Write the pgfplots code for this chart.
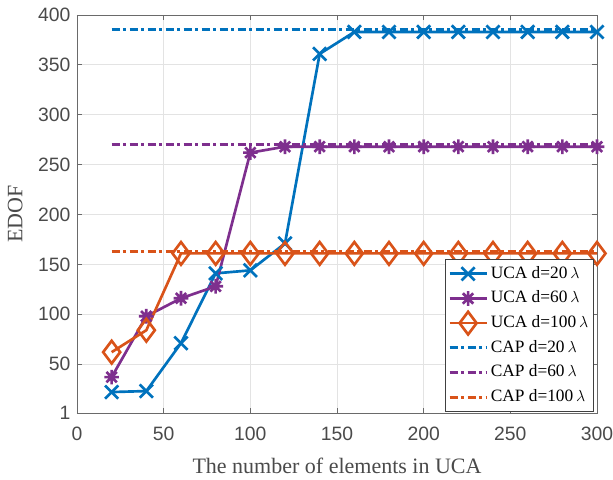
\documentclass[border=0pt]{standalone}
\usepackage{pgfplots}
\pgfplotsset{compat=1.18}
\usepackage{fontspec}
\setmainfont{Liberation Serif}
\newfontfamily\ticksf{Liberation Sans}
\usetikzlibrary{plotmarks}

\definecolor{mblue}{rgb}{0,0.447,0.741}
\definecolor{mpurple}{rgb}{0.494,0.184,0.556}
\definecolor{morange}{rgb}{0.850,0.325,0.098}
\definecolor{axgray}{HTML}{6A6A6A}
\definecolor{tkgray}{HTML}{4A4A4A}

% MATLAB-like asterisk: plus and cross together
\pgfdeclareplotmark{mstar}{%
  \pgfpathmoveto{\pgfqpoint{-\pgfplotmarksize}{0pt}}\pgfpathlineto{\pgfqpoint{\pgfplotmarksize}{0pt}}%
  \pgfpathmoveto{\pgfqpoint{0pt}{-\pgfplotmarksize}}\pgfpathlineto{\pgfqpoint{0pt}{\pgfplotmarksize}}%
  \pgfpathmoveto{\pgfqpoint{-.7071\pgfplotmarksize}{-.7071\pgfplotmarksize}}\pgfpathlineto{\pgfqpoint{.7071\pgfplotmarksize}{.7071\pgfplotmarksize}}%
  \pgfpathmoveto{\pgfqpoint{-.7071\pgfplotmarksize}{.7071\pgfplotmarksize}}\pgfpathlineto{\pgfqpoint{.7071\pgfplotmarksize}{-.7071\pgfplotmarksize}}%
  \pgfusepathqstroke}

\tikzset{capdash/.style={line width=2.2pt, line cap=butt,
  dash pattern=on 6pt off 2.5pt on 2.5pt off 2.5pt}}

\begin{document}
\begin{tikzpicture}
\begin{axis}[
  scale only axis, width=390pt, height=298.5pt,
  xmin=0, xmax=300, ymin=1, ymax=400,
  xtick={0,50,...,300}, ytick={1,50,100,150,200,250,300,350,400},
  tick align=inside, tick pos=both,
  major tick length=3.75pt,
  axis line style={axgray, line width=0.6pt},
  every tick/.style={axgray, line width=0.6pt},
  grid=major, grid style={gray!22, line width=0.6pt},
  /pgf/number format/assume math mode=true,
  /pgf/number format/set thousands separator={},
  tick label style={font=\ticksf\fontsize{14.5}{16}\selectfont, text=tkgray},
  xticklabel style={yshift=-7pt},
  yticklabel style={xshift=-1.5pt},
  xlabel={The number of elements in UCA},
  ylabel={EDOF},
  label style={font=\fontsize{16.5}{19}\selectfont, text=tkgray},
  xlabel style={at={(axis description cs:0.5,-0.153)}, anchor=base},
  ylabel style={at={(axis description cs:-0.119,0.5)}, anchor=center},
  legend image code/.code={%
    \draw[mark repeat=2, mark phase=2, #1] plot coordinates {(0cm,0cm) (0.49cm,0cm) (0.98cm,0cm)};},
  legend cell align=left,
  legend style={at={(rel axis cs:0.994,0.003)}, anchor=south east,
    font=\fontsize{13}{15}\selectfont, draw=black!75, line width=0.5pt,
    inner xsep=2pt, inner ysep=2pt, row sep=1pt,
    nodes={text height=10pt, text depth=3.5pt, inner sep=2pt}},
]
% UCA curves
\addplot[mblue, line width=2pt, mark=x, mark size=7pt, mark options={solid, line width=2pt}] coordinates {
(20,22)(40,23)(60,71)(80,141)(100,144)(120,171)(140,361)(160,383)(180,383)(200,383)(220,383)(240,383)(260,383)(280,383)(300,383)
};
\addlegendentry{UCA d=20\,$\lambda$}
\addplot[mpurple, line width=2pt, mark=mstar, mark size=5.5pt, mark options={solid, line width=2pt}] coordinates {
(20,37)(40,98)(60,116)(80,128)(100,262)(120,268)(140,268)(160,268)(180,268)(200,268)(220,268)(240,268)(260,268)(280,268)(300,268)
};
\addlegendentry{UCA d=60\,$\lambda$}
\addplot[morange, line width=2pt, mark=diamond, mark size=8.5pt, mark options={solid, line width=2pt, fill=white}] coordinates {
(20,62)(40,84)(60,161)(80,161)(100,161)(120,161)(140,161)(160,161)(180,161)(200,161)(220,161)(240,161)(260,161)(280,161)(300,161)
};
\addlegendentry{UCA d=100\,$\lambda$}
% CAP limits
\addplot[mblue, capdash] coordinates {(20,385)(300,385)};
\addlegendentry{CAP d=20\,$\lambda$}
\addplot[mpurple, capdash] coordinates {(20,270)(300,270)};
\addlegendentry{CAP d=60\,$\lambda$}
\addplot[morange, capdash] coordinates {(20,163)(300,163)};
\addlegendentry{CAP d=100\,$\lambda$}
\end{axis}
\pgfresetboundingbox
\useasboundingbox ([shift={(-57.75pt,-49.5pt)}]current axis.south west) rectangle ([shift={(12pt,11.25pt)}]current axis.north east);
\end{tikzpicture}
\end{document}
